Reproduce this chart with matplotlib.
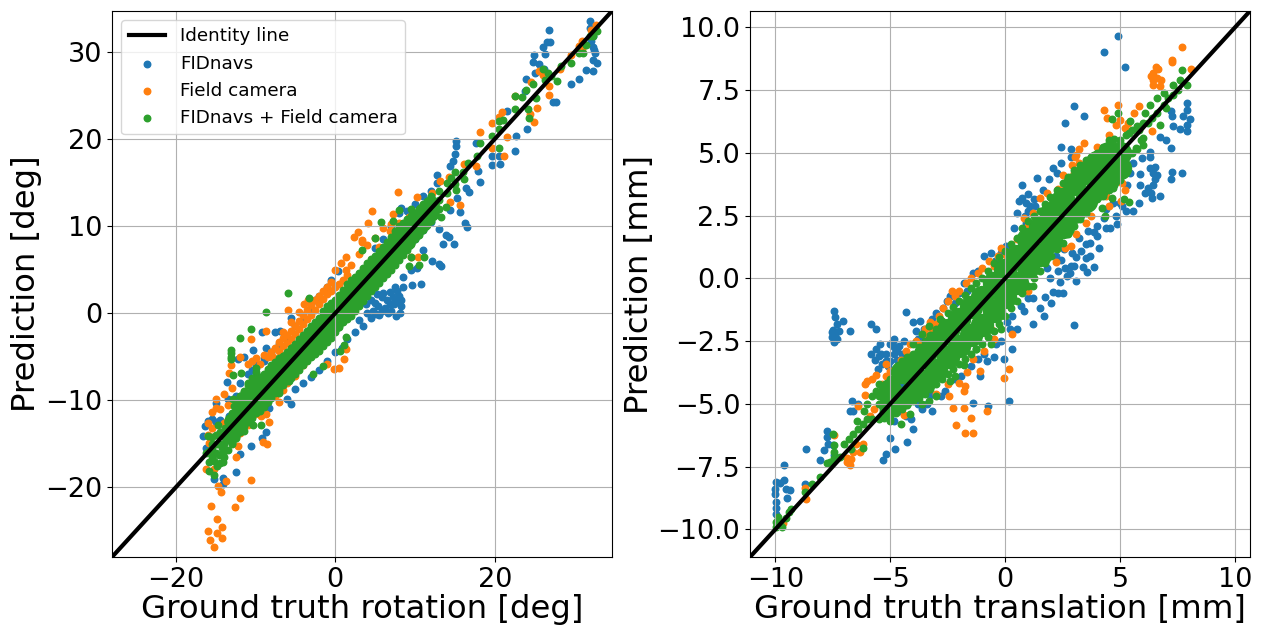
import numpy as np
import matplotlib
matplotlib.use("Agg")
import matplotlib.pyplot as plt

# values, (ground truth, prediction)
rot_fid = [(-10.35,-4.2),(-9.2,-2.2),(-7.6,-2.2),(-6.9,-2.0),(-5.55,-0.6),(-13.6,-7.9),(-5.55,-10.4),(-8.7,-13.6),
    (-9.2,-14.3),(-10.6,-15.2),(-11.9,-16.2),(-12.5,-18.2),(-14.1,-18.9),(-14.1,-19.6),(-15.2,-19.1),(-16.4,-13),
    (-16.6,-14.1),(-16,-12.4),(-8.7,-4),(-11.4,-5),(-12.2,-5.3),(-8.9,-5.1),(-15,-10.3),(-13.5,-9.9),(-8.3,-10.9),
    (-11.2,-12.8),(-13.3,-11.8),(-9.9,-7),(-10.4,-8.4),(-15.5,-12.2),(-15,-12.5),(-14.5,-12.3),(-13.5,-13),(-16.2,-15.5),
    (-12.5,-9.5),(-12,-8),(-11,-7),(-10.5,-6.5),(-10,-6),(-9,-5.5),(-8,-4.5),(-7,-3.5),(-6,-3),(-5,-1.5),(-4,-0.8),
    (-3,0.5),(-2.5,1.5),(-2,2),(-1,3),(-0.5,3.8),(0.3,4.9),(-1.3,2.6),
    (31.9,33.6),(31.9,32.7),(26.8,32.5),(26.9,31.1),(26.5,31.1),(26.1,30.6),(26.3,29.8),(24.9,29.6),(24.8,28.9),(25.6,28.6),
    (26.2,28),(25,27.6),(23.9,26.9),(31.5,27.9),(32.3,27.8),(30.5,26.9),(29.6,26.3),(32.3,30.6),(32.6,29.9),(32.3,29.1),
    (32.8,28.7),(32.1,31.2),(32.3,31.8),(32.5,30.2),(27.7,24.2),(27.3,24.3),(23.8,25.5),(24.1,21.1),(21.5,23.2),(22.6,20.3),(22.5,18.6),
    (15.2,19.8),(15.1,19.2),(15,18.3),(17.7,19.5),(19.6,18),(19.7,17),(20.6,17.1),(20.5,18),(18.2,15.1),(17.9,16.3),
    (14.4,16.9),(14.8,17.5),(12.7,15.9),(12.7,14.9),(16.4,14.4),(16.8,13.9),(15.3,13.2),(15.7,11.6),(14.4,11.8),(16.3,10.3),
    (16.5,9.9),(13,9.7),(13.9,9),(14.2,8.8),(13.5,7.9),(14.9,7.9),(8.2,12.1),(11,7.3),(12.1,6),(13,5.7),(13.2,5.4),
    (10.2,5.2),(9.5,5),(10.7,3.3),(9.6,3.2),(8.5,4.2),(8.5,3),(8.3,1.5),(8.3,0.8),(7.7,2.5),(6.9,1),(5.8,1.9),(5,1.2),
    (6,2.3),(5.4,0.8),(6.5,1.5),(7.2,1.8),(7.5,3),(8,2),(6.2,0.6),(7,0.3),(8.1,0),(4.7,0.2),(5.5,-0.2),(4,0),(4.5,-0.6),
    (3,-0.8),(3.5,-1.5),(1.5,-3),(2.5,-2.2),(0,-4.5),(0.8,-4),(-1,-5.5),(-2,-6.5),(-3,-7.3),(-4,-8),(-5,-8.7),(-6,-9.8),
    (9,8),(10,8.5),(11,9.5),(12,10.5),(5,7.5),(6,8.5),(7,10),(8,11.5),(9,11.7),(10,12.5),(11,13.5),(12,14),(6.8,2.4),(7.4,1),(5.2,2.2),
    (6.6,0),(7.6,-0.3),(3.9,1),(4.5,1.5),(5.8,0.2),(5.1,-0.1),(7.8,1.4)]
rot_field = [(-15.2,-26.9),(-15.7,-26),(-14.2,-25.8),(-14.8,-25.3),(-16,-25),(-14.2,-24.5),(-14.8,-23.6),(-15.6,-22.1),
    (-12.6,-22.3),(-12,-21.2),(-14.3,-20.5),(-14.7,-19.9),(-13.7,-19.3),(-10.6,-19.2),(-12.5,-16.5),(-9.1,-14.8),
    (-8.6,-15),(-8.3,-12.5),(-10.6,-3),(-8.7,-2.1),(-6.5,-2.2),(-5.9,0.4),(-4.6,0.1),(-5.55,-1),(-3.9,1.1),(-14,-9.3),
    (-14.9,-9.8),(-15.4,-11.4),(-15,-10.9),(-16,-12.6),(-13.9,-12.6),(-13.1,-5.9),(-13.3,-6.9),(-12.9,-8.6),(-12,-5),
    (-10.4,-5.5),(-16.2,-17.9),(-15.2,-17.9),(-15.8,-14.9),(-12.2,-15.2),(1.1,-5.3),(0.5,-6.3),(-1,-5.8),(-0.1,-6.4),
    (1.3,-4.1),(-7.1,-10.2),(-6.6,-8.8),(-9.3,-11.8),(-10.1,-11.6),(-8.7,-11.6),(-14.5,-11),(-13.5,-10.5),(-16,-14),(-15.5,-13.2),
    (-15.5,-16),(-11,-5.8),(-10,-5.2),(-9.5,-5.8),(-9,-4.8),(-8,-4.5),(-7.5,-4),(-7,-3.3),(-6.5,-2.9),(-6,-2.5),(-5.5,-2),
    (-5,-1.5),(-4.5,-0.9),(-4,-0.2),(-3.5,0.4),(-3,0.9),(-2.5,1.5),(-2,2),(-1.5,2.6),(-1,3),(-0.5,3.6),(-3.4,1.5),
    (-12,-13.8),(-11,-12.8),(-9.5,-11.5),(-7.5,-9.5),(-6,-8),(-5,-7.2),(-4,-6),(-8.5,-5),(-7.8,-5),(-7,-4.4),(-6.5,-3.8),
    (-6,-3.4),(-5.5,-3),(-5,-2.4),(-4.5,-1.8),(-4,-1.2),(-3.5,-0.7),(-3,-0.2),(-2.5,0.4),(-2,1),(-1.5,1.6),(-1,2.2),
    (-0.5,2.6),(0,3),(0.5,3.4),(1,3.8),(1.5,4.4),
    (32.7,33.1),(32.1,32.5),(30.9,31.2),(30.5,30.7),(30.9,30.3),(29.5,29.7),(28.2,28),(26.8,26.1),(26.8,25.1),(25.3,23.6),
    (24.9,22),(24.4,22.9),(22.5,24.9),(20.9,23.1),(20.5,22.5),(19.7,21.8),(18.2,20.8),(21.5,20.2),(21.2,18.1),(19.6,19),
    (17.7,16.9),(16.2,17.1),(14.2,15.6),(13.1,15.2),(7.9,13.9),(10.2,13.3),(12.1,13.8),(4.6,11.7),(4.1,10.4),(7.2,11.4),
    (9.2,11),(2.9,9.3),(2.3,8.7),(3.4,8.2),(1.3,6.5),(1.3,5),(15.6,12.4),(10.4,6.5),(9.5,6.5),(25.6,27.8),(26,27.4),
    (24.5,26.5),(3.3,8.4),(5.5,7.6),(6.8,9.4),(14.4,12.8),(0,5),(0.7,5.8),(2,5.5),(3,6.8),(4,7.8),(5,8.6),(6,9.8),(7,10.2),(8,10.4)]
rot_both = [(-8.7,0.1),(-5.9,2.3),(-10.6,-1.8),(-11.9,-2.9),(-13.1,-4.2),(-13.1,-4.6),(-13.05,-5),(-13.1,-5.3),(-12.8,-7.1),
    (-9.3,-12.8),(-10.3,-12.8),(-11.4,-13.5),(-14.1,-17.1),(-16.2,-16),(-15.8,-17.1),(-15.2,-18.6),(-15.8,-18.1),(-14.1,-16),
    (-14.5,-13.7),(-14.7,-12.8),(-16,-14.1),(-12.9,-14.9),(-12.7,-10.7),(-12,-9.5),(-11.8,-6.9),(-9.9,-6.3),(-3.3,1.7),
    (1.3,-2.7),(0.6,-4.4),(1.1,-3.6),(-1.6,-6.1),(-2.8,-7),(-5.8,-7.8),(-7,-9.2),(-15.5,-15),(-15,-14),(-15,-16),(-14.5,-15),
    (-14,-14.2),(-14,-15),(-15.5,-16.5),(-13.5,-12.5),(-13.2,-14),(-12.5,-13.5),(-11.5,-9),(-11,-8),(-10.5,-7.5),(-10,-6.8),
    (-12.2,-12.5),(-11.5,-12),(-14.8,-15),(-15.8,-15.8),(-15.2,-17),(-14.6,-16.3),(-14.4,-17.2),(-14.2,-15.5),(-15.5,-14.2),
    (-14.8,-17.6),(-15.4,-15.5),(-13.8,-13.2),(-13.5,-14.6),(-13,-13),(-12.5,-12),(-12,-11),(-12.8,-9.8),
    (32.8,32.4),(31.9,31.8),(31.1,29.9),(30.5,29.9),(29.6,28.7),(28.3,28.4),(27.8,26.7),(26.7,27.6),(26.1,28),(24.8,26.3),
    (23.9,25.6),(22.5,24.9),(23.4,24.8),(22.5,23.5),(24.2,23.4),(25.2,24.7),(24.3,22.4),(20.5,22.1),(21,22.2),(20.5,21.1),
    (19.6,20.4),(20.5,19),(18.1,19.5),(17.8,18.1),(16.6,17.3),(15,16.2),(16.2,15.4),(15.2,14.1),(13.3,11.1),(13.9,12.2),
    (8,11.9),(5.7,10.5),(7.2,10.6),(9.5,12),(5,8.6),(11.1,6.5),(10.5,5.5),(9.5,6.5),(9.3,5.4),(3.4,7.3),(12,13.5),(13,14),
    (14,15),(14.5,15.5),(13,13),(14,13.8),(15,14.8),(12.5,12.5),(16,16.2),(26.3,26.8),(27,27.2),(31.5,30.8),(32.3,31.8)]
# outline of the dense green cloud
rot_both_upper = [(-13,-11.5),(-12.5,-10.5),(-12,-9.5),(-11.5,-8.9),(-11,-8.3),(-10.5,-8),(-10,-7.5),(-9.5,-7.3),(-9,-7),(-8.5,-6.4),
    (-8,-6),(-7.5,-5.6),(-7,-5.2),(-6.5,-4.9),(-6,-4.5),(-5.5,-4),(-5,-3.5),(-4.5,-3),(-4,-2.5),(-3.5,-2),(-3,-1.5),(-2.5,-1),(-2,-0.5),
    (-1.5,0.2),(-1,0.8),(-0.5,1.2),(0,1.5),(0.5,2.1),(1,2.7),(1.5,3.3),(2,3.8),(2.5,4.2),(3,4.6),(3.5,5.2),(4,5.8),(4.5,6.2),(5,6.6),
    (5.5,7.1),(6,7.6),(6.5,8.2),(7,8.8),(7.5,9.4),(8,10),(8.5,10.4),(9,10.8),(9.5,11.2),(10,11.5),(10.5,12),(11,12.5),(11.5,12.9),(12,13.3)]
rot_both_lower = [(-14,-16.5),(-13.5,-15.7),(-13,-15),(-12.5,-14.3),(-12,-13.7),(-11.5,-13),(-11,-12.5),(-10.5,-12),(-10,-11.5),(-9.5,-11.2),
    (-9,-10.8),(-8.5,-10.2),(-8,-9.7),(-7.5,-9.2),(-7,-8.8),(-6.5,-8.3),(-6,-7.8),(-5.5,-7.4),(-5,-7),(-4.5,-6.5),(-4,-6),(-3.5,-5.5),(-3,-5),
    (-2.5,-4.7),(-2,-4.3),(-1.5,-3.8),(-1,-3.3),(-0.5,-2.8),(0,-2.2),(0.5,-1.6),(1,-1),(1.5,-0.7),(2,-0.3),(2.5,0.2),(3,0.8),(3.5,1.4),(4,2),
    (4.5,2.5),(5,3),(5.5,3.5),(6,4),(6.5,4.5),(7,5),(7.5,5.5),(8,6.1),(8.5,6.7),(9,7.2),(9.5,7.9),(10,8.5),(10.5,9),(11,9.6),(11.5,10.1),(12,10.6),(12.5,11.3),(13,12)]
# its middle, too many points there to read one by one
rot_both_core = [(-13,-12.4),(-12,-10.8),(-11,-9.6),(-10,-8.7),(-9,-8),(-8,-7.1),(-7,-6.2),(-6,-5.3),(-5,-4.4),(-4,-3.4),(-3,-2.4),(-2,-1.6),
    (-1,-0.4),(0,0.4),(1,1.6),(2,2.5),(3,3.5),(4,4.7),(5,5.6),(6,6.6),(7,7.7),(8,8.8),(9,9.7),(10,10.7),(11,11.7),(12,12.5),
    (-13,-14),(-12,-12.4),(-11,-11.2),(-10,-10.3),(-9,-9.8),(-8,-8.7),(-7,-7.8),(-6,-6.9),(-5,-6),(-4,-5),(-3,-4),(-2,-3.2),
    (-1,-2),(0,-1.2),(1,0),(2,0.9),(3,1.9),(4,3.1),(5,4),(6,5),(7,6.1),(8,7.2),(9,8.2),(10,9.3),(11,10.3),(12,11.5)]

trans_fid = [(-9.95,-8.1),(-10,-8.4),(-10,-8.6),(-9.95,-8.9),(-9.95,-9.15),(-9.95,-9.4),(-9.6,-8.05),(-9.8,-8.15),(-9.55,-8.4),
    (-9.35,-8.45),(-9.5,-8.75),(-9.6,-7.45),(-8.7,-8.2),(-8.65,-6.8),(-8.05,-7.25),(-7.9,-6.85),(-7.75,-6.1),(-7.75,-6.3),
    (-7.7,-6.6),(-7.5,-6.65),(-7.45,-7.05),(-7.45,-1.3),(-7.4,-1.55),(-7.3,-1.8),(-7.05,-1.7),(-7.25,-2.1),(-6.75,-2.1),
    (-7.55,-2.15),(-7.55,-2.35),(-7.45,-2.55),(-7.4,-2.25),(-7.3,-2.4),(-7.5,-2.05),(-5.85,-1.8),(-5.6,-2),(-4.3,-1.35),(-4,-1.75),(-3.7,-1.7),(-3.55,-2),
    (-4.85,-2.4),(-5.45,-2.6),(-5.85,-3),(-5.65,-3.25),(-5.55,-3.6),(-4.85,-2.75),(-4.85,-3),(-4.7,-3.25),(-5.35,-3.4),
    (-6.65,-4.9),(-6.75,-5.3),(-6.6,-5.3),(-6.4,-5),(-4.25,-6.5),(-4,-6),(-4.8,-6.8),(-5.2,-7),(-5.3,-7.25),(-5,-6.35),
    (-4.1,-5.6),(-1.4,-4.95),(-0.75,-5.1),(-0.8,-3.3),(-0.5,-3.15),(-0.05,-3.2),(-1.1,-3.9),(0.15,-4.9),(-3.4,-5),(-3.25,-4.65),
    (-4.85,-5.7),(-2.55,-0.9),(-1.65,-0.5),(-5.2,-3),(-5,-2.6),(-5.4,-3),(-5.1,-3.5),(-4.6,-2.7),(-4.4,-2.5),(-3.9,-2.1),(-2.2,-1),
    (-2,-0.6),(-1.2,0.3),(-3.2,-5.3),(-3.8,-5),(-2.8,-4.7),(-2.2,-4),(-1.2,-3.2),(-0.6,-2.4),(0.3,-2.8),(-0.2,-2.5),(0.1,-1.75),
    (1.5,-1.2),(1.7,-1.5),(0.8,-1.3),(0.5,-2),(1.2,-1.8),(0.3,-1.5),(2,-1),(3,-1.85),(2.5,-0.6),(1,-0.8),(-4.5,-4.2),(-5.2,-4.8),
    (-5.6,-2.8),(-5.5,-3.1),(-5.2,-3.3),(-5,-3.3),(-4.9,-2.5),(-4.7,-2.9),(-4.5,-3),(-3.8,-2.4),(-3.6,-2.3),(-3.2,-1.6),(-3,-1.4),(-2.7,-1.2),(-2.4,-0.7),
    (-1.8,-0.2),(-1.4,0.2),(-0.9,0.9),(-0.6,1),(-4.6,-5.3),(-4.3,-5.5),(-3.6,-5.2),(-2.6,-4.5),(-1.9,-3.9),(-1.5,-3.5),(-0.9,-3),(-0.4,-2.6),(0.2,-2),(0.7,-1.1),
    (4.9,9.65),(4.3,9),(5.2,8.4),(3,6.85),(2.6,6.2),(3.45,6.45),(7.9,7),(7.9,6.7),(7.75,6.45),(8.05,6.35),(7.9,6.1),(7.9,5.85),
    (7.6,5.95),(7.3,6.05),(7.25,6.45),(7.2,6.65),(6.75,5.65),(7,5.5),(7.2,5.2),(6.3,5.05),(6.3,4.85),(5.95,4.8),(5.55,4.6),
    (5.85,4.15),(6.5,4.45),(6.45,4.2),(6.5,3.95),(6.45,3.7),(6.75,3.3),(6.4,3.2),(6.1,3.4),(5.8,3),(7.25,4.25),(7.2,3.95),
    (7.7,4.2),(5.55,2.7),(5.25,2.7),(5.85,3.7),(5.45,4.2),(5.3,3.7),(2.45,5.25),(2.85,5.15),(2.85,4.85),(2.45,4.6),(2.25,4.2),
    (1.4,4),(0.75,3.7),(0.75,3.2),(1,3.35),(1.25,3.15),(0.85,2.5),(1.65,3.5),(1.9,3.95),(1.1,2.9),(0.9,3),(0.6,3.1),(1,2.7),(0.9,2.2),
    (4.85,2.15),(4.55,2),(4.8,2.5),(4.4,2.75),(4,2.1),(3.85,1.85),(3.7,1.4),(4.1,1.2),(3.5,1.35),(3.7,0.9),(3.55,0.25),(3.85,0.45),
    (3.4,0.45),(3.1,-0.1),(3.1,0.85),(2.85,0.5),(2.7,0.1),(2.4,-0.15),(2.45,0.75),(2.3,-0.6),(2.1,-0.55),(1.75,-0.75),(1.2,-0.8),
    (1.95,0),(2.55,1.15),(-0.2,1),(0.05,1.3),(-0.45,0.7),(2.3,0.3),(2.6,0.4),(2.9,1),(3.2,1.6),(4.3,2.4),(4,1.7),(3.5,0.8),(5,3),(4.7,3),
    (6.2,3.6),(6.3,4.4),(6.6,4.1),(6.35,3.4),(3,0.5),(2.2,0.9),(1.8,0.4),(2.8,0.2),(3.3,1.1),(3.6,1.9),(4.4,2),(5.1,2.9),(0.4,2),(0.5,2.6),(1.3,2.9),(2.1,4.4)]
trans_field = [(-8.7,-8.35),(-8.65,-8.8),(-9.65,-9.75),(-7.45,-6.25),(-6.9,-7.3),(-6.75,-7.45),(-6.9,-7.15),(-6.3,-6.9),(-6.1,-4.65),
    (-6,-4.1),(-5.2,-3.4),(-5.2,-3.9),(-5.6,-3.85),(-6.4,-5.1),(-2.45,-4.7),(-2.25,-5.15),(-1.8,-5.15),(-1.5,-5.55),(-2.15,-5.85),
    (-1.75,-6.15),(-1.4,-6.15),(-0.8,-5.3),(-2,-4.15),(-1.75,-4.3),(-1.8,-4.5),(-1.65,-3.75),(-1.1,-3.7),(0.15,-3.6),(-0.05,-3.95),
    (-0.5,-2.4),(-4.4,-5.45),(-2.3,-0.5),(-2.7,-1.2),(-3.25,-1.75),(-3.2,-2),(-3.7,-2.6),(-4.15,-2.6),(-4.55,-3.25),(-5,-3.7),
    (-5.35,-4.2),(-6.6,-6.9),(-6.5,-6.6),(-6.7,-7.2),(-6.2,-6.6),(-6.1,-4.2),(-5.8,-4),(-5.5,-4.6),(-5.7,-5.2),(-5.9,-5.5),(-5.2,-5.5),
    (-5,-5.2),(-4.7,-3.7),(-2.5,-0.9),(-2.9,-1.5),(-3.4,-2.3),(-3,-1.8),(-2,-0.5),(-1.5,0),(-1,0.4),(0.3,-2.2),(-0.6,-2),
    (-4.3,-2.9),(-3.9,-2.5),(-3.5,-2),(-2.2,-0.7),(-1.7,-0.2),(-1.2,0.2),(-0.7,0.7),(-0.2,1.2),(-3,-4.6),(-2.5,-4.2),(-1.4,-3.2),(-0.9,-2.9),
    (7.7,9.2),(7.25,8.7),(7.25,8.6),(6.65,8.35),(6.45,8.2),(6.35,8.05),(6.45,7.9),(6.8,7.9),(6.45,7.7),(6.75,7.65),(8.1,8.35),
    (6.6,8),(6.55,8.4),(4.9,6.9),(4.3,6.7),(5.8,6.85),(5.6,6.6),(5.35,6.2),(4.45,6.4),(4.8,6.1),(5.45,5.85),(3.45,5.4),(3.2,5.15),
    (3.05,4.85),(3.2,4.6),(2.75,3.95),(2.6,3.7),(2.3,3.55),(1.5,3.2),(0.8,2.4),(0.8,1.95),(0.5,1.55),(0.05,0.95),(-0.3,0.9),(-0.5,0.5),
    (5.2,3.5),(5.05,3.1),(4.4,3.3),(3.75,2.5),(3.1,1.75),(2.85,1.3),(2.2,0.65),(1,-0.5),(6.4,5.85),(5.9,6.05),(4,5.25),(3,4.2),(2,2.9),
    (1.2,2.6),(1,2.1),(3.1,4.9),(4.5,5.7),(5,6.3),(5.2,6),(4.5,2.9),(2.5,4.1),(2.9,4.5),(1.8,3.4),(5.1,3.8),(3.5,2.2),(2.6,1.2)]
trans_both = [(-9.95,-9.7),(-9.95,-9.9),(-9.8,-9.7),(-9.55,-9.55),(-9.4,-9.3),(-8.7,-8.5),(-8.05,-7.9),(-7.75,-7.35),(-7.45,-6.65),
    (-7.45,-6.9),(-7.45,-7.15),(-6.2,-6.75),(-6.45,-5.7),(-6.15,-5.3),(-4.55,-5.8),(-4.15,-5.4),(-3,-4.7),(-1.8,-3.45),(-1.25,-2.8),
    (-0.2,-2),(-2.85,-1.6),(-4.8,-3.7),(-7.2,-7.1),(-7,-6.6),(-6.8,-6.4),(-6.6,-6.2),(-6.4,-6),(-6.2,-5.8),(-6,-5.6),(-5.8,-5.6),
    (-5.5,-5),(-5.3,-5.3),(-5,-5.7),(-4.8,-5.3),(-7.6,-7.3),(-7.5,-6.2),(-9.7,-9.9),(-9.9,-9.5),(-9.3,-9.2),(-8.4,-8.2),(-6.7,-6.8),
    (-5.6,-4.5),(-5.8,-4.7),(-5.5,-4.2),(-6,-5),(-3.6,-5),(-3.3,-4.9),(-2.2,-3.9),(-2.4,-4.1),(-4,-2.6),(-3.6,-2.2),(-3.3,-1.9),(-0.6,-2.6),
    (7.7,8.3),(7.9,7.7),(7.6,7.9),(4.9,6.6),(4.65,6.35),(5.45,6.25),(6.75,6.1),(4.35,2.5),(4.65,3.2),(5.4,3.05),(5.15,3.15),(4.2,2.8),
    (1.2,-0.3),(1.95,3.25),(7.5,7.5),(7.3,7.3),(7.1,7.2),(6.9,6.9),(6.6,6.6),(6.4,6.4),(6.2,6.2),(6,5.6),(5.8,5.9),(7,6.8),(6.6,7.2),
    (6.9,7.4),(7.3,7.7),(6.3,6.9),(6.1,6.6),(5.9,5.5),(5.7,5.2),(5.4,5.8),(5.2,5.2),(5,4.2),(4.7,3.6)]
# outline of the dense green cloud
trans_both_upper = [(-5.5,-4.7),(-5.2,-4.2),(-5,-4),(-4.75,-3.6),(-4.5,-3.3),(-4.25,-3.15),(-4,-3),(-3.75,-2.75),(-3.5,-2.5),(-3.25,-2.25),(-3,-2),
    (-2.75,-1.7),(-2.5,-1.4),(-2.25,-1.15),(-2,-0.9),(-1.75,-0.65),(-1.5,-0.4),(-1.25,-0.2),(-1,0),(-0.75,0.3),(-0.5,0.6),(-0.25,0.85),(0,1.1),
    (0.25,1.35),(0.5,1.6),(0.75,2),(1,2.3),(1.25,2.5),(1.5,2.7),(1.75,2.95),(2,3.2),(2.25,3.5),(2.5,3.8),(2.75,4.05),(3,4.3),(3.25,4.5),(3.5,4.7),
    (3.75,4.85),(4,5),(4.25,5.25),(4.5,5.5),(4.75,5.55),(5,5.5),(5.25,5.7),(5.5,5.9),(5.75,6.05),(6,6.2)]
trans_both_lower = [(-5.5,-5.6),(-5.25,-5.55),(-5,-5.5),(-4.75,-5.35),(-4.5,-5.2),(-4.25,-5.05),(-4,-4.9),(-3.75,-4.75),(-3.5,-4.6),(-3.25,-4.4),(-3,-4.2),
    (-2.75,-4),(-2.5,-3.8),(-2.25,-3.6),(-2,-3.4),(-1.75,-3.2),(-1.5,-3),(-1.25,-2.8),(-1,-2.6),(-0.75,-2.35),(-0.5,-2.1),(-0.25,-1.8),(0,-1.5),
    (0.25,-1.2),(0.5,-0.9),(0.75,-0.6),(1,-0.3),(1.25,0),(1.5,0.3),(1.75,0.6),(2,0.9),(2.25,1.15),(2.5,1.4),(2.75,1.75),(3,2.1),(3.25,2.35),(3.5,2.6),
    (3.75,2.9),(4,3.15),(4.25,3.3),(4.5,3.5),(4.75,3.7),(5,3.9),(5.25,4.5),(5.5,5),(5.75,5.15),(6,5.3)]
# its middle, too many points there to read one by one
trans_both_core = [(-5,-4.45),(-4.5,-3.75),(-4,-3.4),(-3.5,-3),(-3,-2.55),(-2.5,-2.05),(-2,-1.6),(-1.5,-1.15),(-1,-0.75),(-0.5,-0.2),(0,0.35),
    (0.5,0.9),(1,1.55),(1.5,2.05),(2,2.6),(2.5,3.15),(3,3.75),(3.5,4.2),(4,4.65),(4.5,5),(5,5),
    (-5,-5.05),(-4.5,-4.75),(-4,-4.5),(-3.5,-4.1),(-3,-3.65),(-2.5,-3.15),(-2,-2.7),(-1.5,-2.25),(-1,-1.85),(-0.5,-1.3),(0,-0.75),
    (0.5,-0.2),(1,0.45),(1.5,0.95),(2,1.5),(2.5,2.05),(3,2.65),(3.5,3.1),(4,3.55),(4.5,4),(5,4.4)]

rot_xticks = [-20, 0, 20]
rot_yticks = [-20, -10, 0, 10, 20, 30]
rot_lim = [-28, 34.7]
trans_xticks = [-10, -5, 0, 5, 10]
trans_yticks = [-10, -7.5, -5, -2.5, 0, 2.5, 5, 7.5, 10]
trans_lim = [-11.1, 10.65]


def draw(ax, fid, field, both, upper, lower, core, core_size, lim, xticks, yticks, xlabel, ylabel):
    fid = np.array(fid)
    field = np.array(field)
    both = np.array(both + upper + lower)
    core = np.array(core)
    ax.scatter(fid[:, 0], fid[:, 1], s=22, color="tab:blue", label="FIDnavs")
    ax.scatter(field[:, 0], field[:, 1], s=22, color="tab:orange", label="Field camera")
    ax.scatter(both[:, 0], both[:, 1], s=22, color="tab:green", label="FIDnavs + Field camera")
    ax.scatter(core[:, 0], core[:, 1], s=core_size, color="tab:green")
    ax.plot(lim, lim, color="black", linewidth=3, label="Identity line")
    ax.set_xlim(lim)
    ax.set_ylim(lim)
    ax.set_xticks(xticks)
    ax.set_yticks(yticks)
    ax.tick_params(labelsize=19.5)
    ax.set_xlabel(xlabel, fontsize=23.3, labelpad=1)
    ax.set_ylabel(ylabel, fontsize=23.3, labelpad=2)
    ax.grid(True)


fig = plt.figure(figsize=(12.61, 6.3), dpi=100)
ax1 = fig.add_axes([112 / 1261, 73 / 630, 500 / 1261, 546 / 630])
ax2 = fig.add_axes([750 / 1261, 73 / 630, 500 / 1261, 546 / 630])

draw(ax1, rot_fid, rot_field, rot_both, rot_both_upper, rot_both_lower, rot_both_core, 120,
     rot_lim, rot_xticks, rot_yticks, "Ground truth rotation [deg]", "Prediction [deg]")
draw(ax2, trans_fid, trans_field, trans_both, trans_both_upper, trans_both_lower, trans_both_core, 250,
     trans_lim, trans_xticks, trans_yticks, "Ground truth translation [mm]", "Prediction [mm]")

handles, labels = ax1.get_legend_handles_labels()
order = [labels.index("Identity line"), labels.index("FIDnavs"), labels.index("Field camera"),
         labels.index("FIDnavs + Field camera")]
ax1.legend([handles[i] for i in order], [labels[i] for i in order], loc="upper left", fontsize=13.2)

fig.savefig("out.png", dpi=100)
